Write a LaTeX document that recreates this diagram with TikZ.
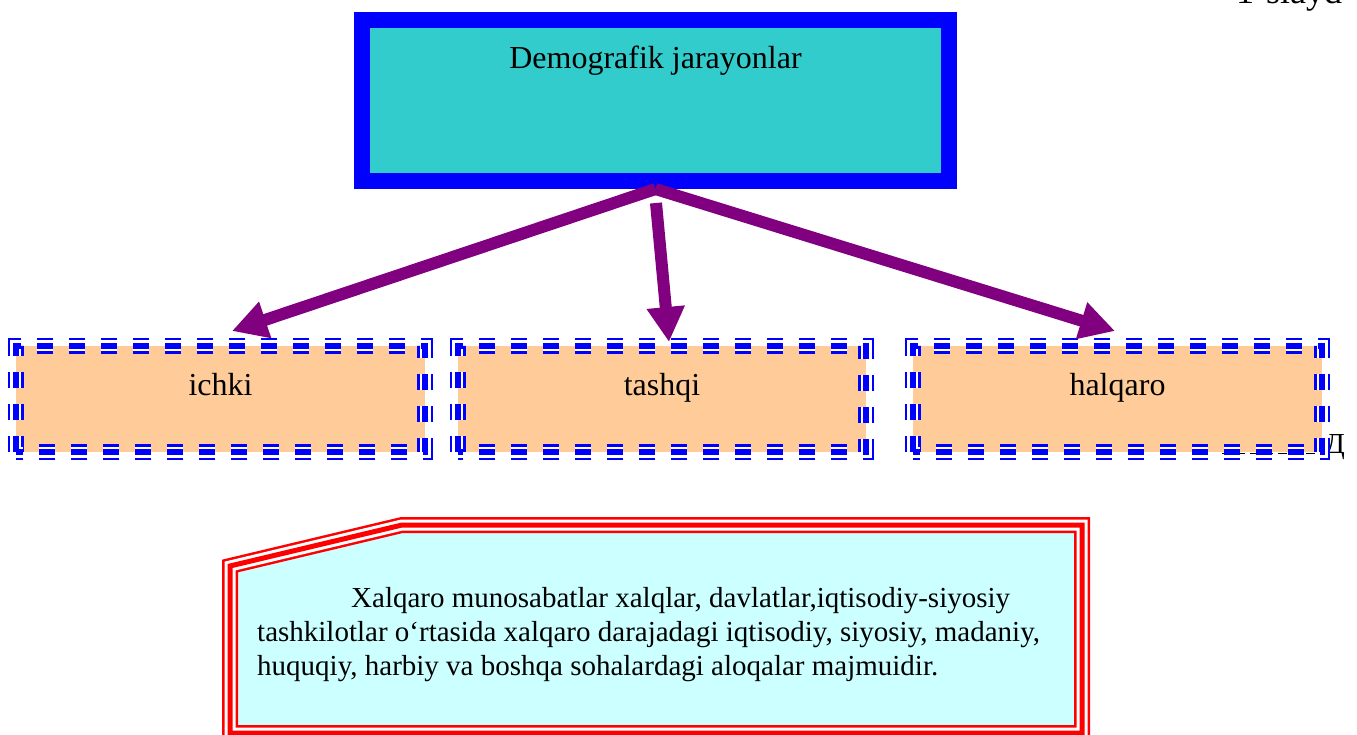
\documentclass[tikz,border=0pt]{standalone}
\usepackage{fontspec}
\setmainfont{Liberation Serif}
\usetikzlibrary{arrows.meta}
\definecolor{topfill}{HTML}{33CCCC}
\definecolor{peach}{HTML}{FFCC99}
\definecolor{lcyan}{HTML}{CCFFFF}
\definecolor{arrowpurple}{HTML}{800080}
\definecolor{pblue}{HTML}{0000FF}
\definecolor{pred}{HTML}{FF0000}
\begin{document}
\begin{tikzpicture}[x=1pt,y=-1pt,
  bigtxt/.style={font=\fontsize{32}{38}\selectfont, inner sep=0, anchor=base},
  bodytxt/.style={font=\fontsize{29}{34}\selectfont, inner sep=0, anchor=base west},
  peachbox/.style={fill=peach, minimum height=106, inner sep=0},
  dashA/.style={pblue, line width=16, dash pattern=on 16 off 16},
  dashB/.style={white, line width=11, dash pattern=on 16 off 16},
  dashC/.style={pblue, line width=6, dash pattern=on 16 off 16},
  redA/.style={pred, line width=16, line join=miter},
  redB/.style={white, line width=11, line join=miter},
  redC/.style={pred, line width=5, line join=miter},
  arr/.style={draw=arrowpurple, line width=12, -{Triangle[length=35pt,width=36pt]}}
]
\useasboundingbox (0,0) rectangle (1357,734);

% slide number
\node[font=\fontsize{36}{40}\selectfont, inner sep=0, anchor=base west] (slide) at (1236,3) {1-slayd};

% top box
\node[draw=pblue, line width=16, fill=topfill, minimum width=587, minimum height=161, inner sep=0] (top) at (655.5,100.5) {};
\node[bigtxt] (toptxt) at (655.5,68) {Demografik jarayonlar};

% three boxes
\node[peachbox, minimum width=409] (b1) at (220.5,399) {};
\node[peachbox, minimum width=408] (b2) at (662,399) {};
\node[peachbox, minimum width=409] (b3) at (1117.5,399) {};

% stray dashed line and letter
\coordinate (d0) at (1222,453);
\coordinate (d1) at (1326,453);
\draw[black, line width=1, dash pattern=on 9 off 5] (d0) -- (d1);
\node[font=\fontsize{29}{34}\selectfont, inner sep=0, anchor=base west] (dchar) at (1325,453) {Д};

\foreach \b in {b1,b2,b3}{
  \draw[dashA] (\b.south west) rectangle (\b.north east);
  \draw[dashB] (\b.south west) rectangle (\b.north east);
  \draw[dashC] (\b.south west) rectangle (\b.north east);
}

\node[bigtxt] (l1) at (220.5,395) {ichki};
\node[bigtxt] (l2) at (662,395) {tashqi};
\node[bigtxt] (l3) at (1117.5,395) {halqaro};

% arrows
\coordinate (m0) at (656,203);
\coordinate (a1) at (232,331);
\coordinate (a2) at (669,342);
\coordinate (a3) at (1115,331);
\draw[arr] (top.south) -- (a1);
\draw[arr] (top.south) -- (a3);
\draw[arr] (m0) -- (a2);

% bottom definition box
\fill[lcyan] (230,566) -- (402,525) -- (1082,525) -- (1082,733) -- (230,733) -- cycle;
\draw[redA] (230,566) -- (402,525) -- (1082,525) -- (1082,733) -- (230,733) -- cycle;
\draw[redB] (230,566) -- (402,525) -- (1082,525) -- (1082,733) -- (230,733) -- cycle;
\draw[redC] (230,566) -- (402,525) -- (1082,525) -- (1082,733) -- (230,733) -- cycle;

\node[bodytxt] (t1) at (351,607) {Xalqaro munosabatlar xalqlar, davlatlar,iqtisodiy-siyosiy};
\node[bodytxt] (t2) at (257,641) {tashkilotlar o‘rtasida xalqaro darajadagi iqtisodiy, siyosiy, madaniy,};
\node[bodytxt] (t3) at (257,675) {huquqiy, harbiy va boshqa sohalardagi aloqalar majmuidir.};
\end{tikzpicture}
\end{document}
